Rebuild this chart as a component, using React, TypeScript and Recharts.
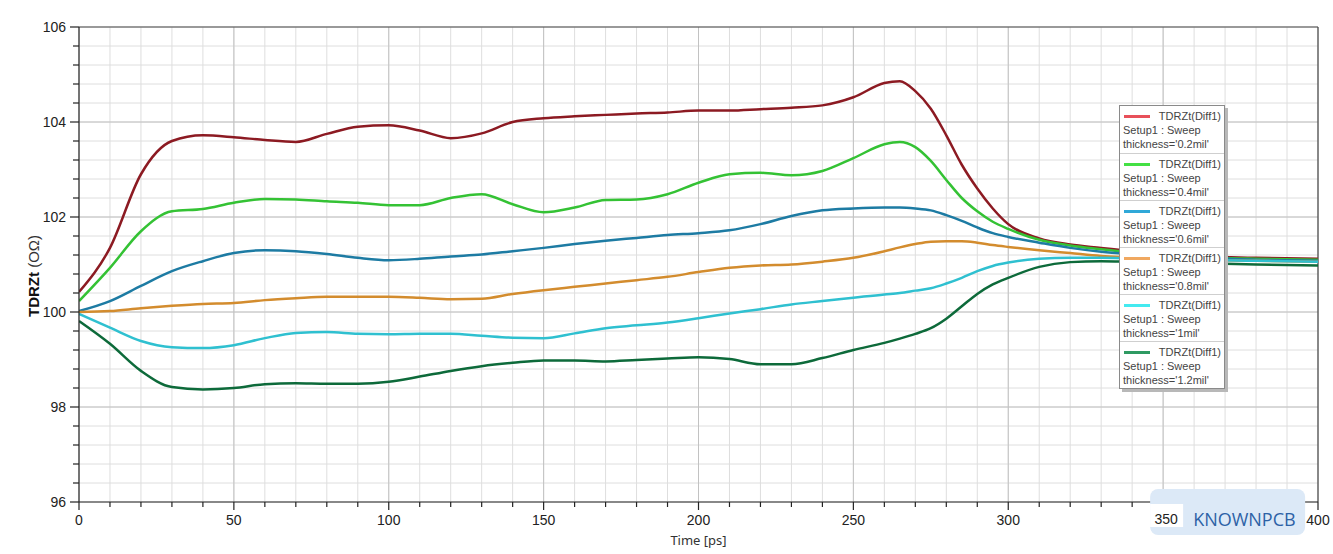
import React from 'react';
import { LineChart, Line, XAxis, YAxis, CartesianGrid, ReferenceLine, Legend } from 'recharts';

const times = [0, 10, 20, 30, 40, 50, 60, 70, 80, 90, 100, 110, 120, 130, 140, 150, 160, 170, 180, 190, 200, 210, 220, 230, 240, 250, 260, 265, 270, 275, 280, 285, 290, 295, 300, 310, 320, 330, 340, 350, 360, 380, 400];

const s02 = [100.42, 101.35, 102.9, 103.6, 103.72, 103.68, 103.62, 103.58, 103.75, 103.9, 103.93, 103.82, 103.66, 103.76, 104.0, 104.08, 104.12, 104.15, 104.18, 104.2, 104.24, 104.24, 104.27, 104.3, 104.35, 104.52, 104.82, 104.86, 104.65, 104.28, 103.72, 103.1, 102.6, 102.18, 101.85, 101.55, 101.42, 101.35, 101.28, 101.22, 101.18, 101.14, 101.12];
const s04 = [100.23, 100.93, 101.7, 102.12, 102.17, 102.3, 102.38, 102.37, 102.33, 102.3, 102.25, 102.25, 102.4, 102.48, 102.27, 102.1, 102.2, 102.36, 102.37, 102.48, 102.72, 102.9, 102.93, 102.88, 102.97, 103.24, 103.53, 103.58, 103.47, 103.18, 102.78, 102.4, 102.12, 101.9, 101.75, 101.52, 101.4, 101.32, 101.25, 101.2, 101.16, 101.12, 101.1];
const s06 = [100.02, 100.23, 100.55, 100.86, 101.07, 101.24, 101.3, 101.28, 101.22, 101.14, 101.09, 101.12, 101.17, 101.21, 101.28, 101.35, 101.43, 101.5, 101.56, 101.62, 101.66, 101.72, 101.85, 102.02, 102.14, 102.18, 102.2, 102.2, 102.18, 102.14, 102.04, 101.92, 101.78, 101.66, 101.58, 101.46, 101.35, 101.27, 101.22, 101.18, 101.15, 101.1, 101.08];
const s08 = [100.0, 100.02, 100.08, 100.13, 100.17, 100.19, 100.25, 100.29, 100.32, 100.32, 100.32, 100.3, 100.27, 100.28, 100.38, 100.46, 100.53, 100.6, 100.67, 100.74, 100.84, 100.93, 100.98, 101.0, 101.06, 101.14, 101.28, 101.36, 101.43, 101.48, 101.49, 101.49, 101.46, 101.41, 101.37, 101.3, 101.24, 101.18, 101.15, 101.12, 101.1, 101.08, 101.06];
const s10 = [99.96, 99.67, 99.39, 99.26, 99.24, 99.3, 99.45, 99.56, 99.58, 99.54, 99.53, 99.54, 99.54, 99.5, 99.46, 99.45, 99.55, 99.66, 99.72, 99.78, 99.87, 99.97, 100.06, 100.16, 100.23, 100.3, 100.37, 100.4, 100.45, 100.5, 100.6, 100.72, 100.86, 100.97, 101.04, 101.12, 101.14, 101.14, 101.13, 101.12, 101.1, 101.08, 101.06];
const s12 = [99.81, 99.33, 98.76, 98.42, 98.37, 98.4, 98.48, 98.5, 98.49, 98.49, 98.53, 98.64, 98.76, 98.86, 98.93, 98.98, 98.98, 98.96, 98.99, 99.02, 99.05, 99.01, 98.9, 98.9, 99.03, 99.2, 99.35, 99.44, 99.54, 99.66, 99.86, 100.12, 100.38, 100.58, 100.72, 100.95, 101.05, 101.07, 101.06, 101.05, 101.03, 101.0, 100.98];

const seriesKeys = ['s02', 's04', 's06', 's08', 's10', 's12'];
const seriesValues = [s02, s04, s06, s08, s10, s12];
const seriesNames = ["thickness='0.2mil'", "thickness='0.4mil'", "thickness='0.6mil'", "thickness='0.8mil'", "thickness='1mil'", "thickness='1.2mil'"];
const lineColors = ['#8c1a22', '#34c234', '#1d7ba3', '#d38c2e', '#2fc0d0', '#0d6a3a'];
const legendColors = ['#e8505a', '#44e044', '#30a8d8', '#f0a860', '#44eaf0', '#2f9a62'];

const xTicks = [0, 10, 20, 30, 40, 50, 60, 70, 80, 90, 100, 110, 120, 130, 140, 150, 160, 170, 180, 190, 200, 210, 220, 230, 240, 250, 260, 270, 280, 290, 300, 310, 320, 330, 340, 350, 360, 370, 380, 390, 400];
const xMajor = [50, 100, 150, 200, 250, 300, 350];
const yTicks = [96, 96.4, 96.8, 97.2, 97.6, 98, 98.4, 98.8, 99.2, 99.6, 100, 100.4, 100.8, 101.2, 101.6, 102, 102.4, 102.8, 103.2, 103.6, 104, 104.4, 104.8, 105.2, 105.6, 106];
const yMajor = [98, 100, 102, 104];

const data = times.map((t, i) => {
  const row: any = { t };
  seriesKeys.forEach((k, j) => { row[k] = seriesValues[j][i]; });
  return row;
});

const tickFont = "'Liberation Sans', Arial, sans-serif";

const XTick = (props: any) => {
  const { x, y, payload } = props;
  const v = payload.value;
  const major = v % 50 === 0;
  if (v > 350 && v < 400) return <g />;
  if (v === 350) {
    return (
      <g>
        <rect x={x - 13} y={y - 13} width={155} height={46} rx={8} ry={8} fill="#dce9f7" />
        <text x={x + 30} y={y + 24} fontFamily="'Open Sans', sans-serif" fontSize={18} fill="#2d62a6">KNOWNPCB</text>
        <rect x={x - 13} y={y + 2} width={33} height={23} fill="#ffffff" />
        <text x={x + 3} y={y + 22} textAnchor="middle" fontFamily={tickFont} fontSize={14} fill="#222">350</text>
      </g>
    );
  }
  return (
    <g>
      <line x1={x} x2={x} y1={y} y2={y + (major ? 8 : 5)} stroke="#222" strokeWidth={1.2} />
      {major && (
        <text x={x} y={y + 23} textAnchor="middle" fontFamily={tickFont} fontSize={14} fill="#222">{v}</text>
      )}
    </g>
  );
};

const YTick = (props: any) => {
  const { x, y, payload } = props;
  const v = payload.value;
  const r = Math.round(v);
  const major = Math.abs(v - r) < 1e-6 && r % 2 === 0;
  return (
    <g>
      <line x1={x - (major ? 9 : 6)} x2={x} y1={y} y2={y} stroke="#222" strokeWidth={1.2} />
      {major && (
        <text x={x - 13} y={y + 5} textAnchor="end" fontFamily={tickFont} fontSize={14} fill="#222">{r}</text>
      )}
    </g>
  );
};

const LegendBox = () => (
  <div style={{
    width: 106, border: '1px solid #8a8a8a', background: '#fff', boxShadow: '3px 3px 0 #b8b8b8',
    fontFamily: tickFont, fontSize: 11, color: '#444', lineHeight: '14px', boxSizing: 'border-box'
  }}>
    {seriesNames.map((n, i) => (
      <div key={n} style={{ height: 47, borderTop: i === 0 ? 'none' : '1px solid #cfcfcf', padding: '3px 3px 0 3px', boxSizing: 'border-box' }}>
        <div style={{ display: 'flex', alignItems: 'center', justifyContent: 'space-between', height: 14 }}>
          <span style={{ display: 'inline-block', width: 26, height: 3, background: legendColors[i], marginLeft: 1 }} />
          <span>TDRZt(Diff1)</span>
        </div>
        <div>Setup1 : Sweep</div>
        <div style={{ whiteSpace: 'nowrap' }}>{n}</div>
      </div>
    ))}
  </div>
);

const YLabel = (props: any) => {
  const vb = props.viewBox || { x: 0, y: 27 };
  const cx = vb.x + 33;
  const cy = vb.y + 249;
  return (
    <text x={cx} y={cy} transform={`rotate(-90 ${cx} ${cy})`} textAnchor="middle" dominantBaseline="central"
      fontFamily={tickFont} fontSize={15} fill="#111">
      <tspan fontWeight="bold">TDRZt</tspan>
      <tspan fill="#333"> (OΩ)</tspan>
    </text>
  );
};

const XLabel = (props: any) => {
  const vb = props.viewBox || { x: 79, y: 502, width: 1239 };
  return (
    <text x={vb.x + vb.width / 2} y={545} textAnchor="middle" fontFamily="'Noto Sans', sans-serif" fontSize={13} fill="#333">Time [ps]</text>
  );
};

export default function App() {
  return (
    <div style={{ position: 'absolute', left: 0, top: 0, width: 1333, height: 554, background: '#fff' }}>
      <LineChart width={1333} height={554} data={data} margin={{ top: 27, right: 15, bottom: 0, left: 0 }}>
        <CartesianGrid stroke="#dedede" strokeWidth={1} horizontalValues={yTicks} verticalValues={xTicks} />
        <CartesianGrid stroke="#c2c2c2" strokeWidth={1} horizontalValues={yMajor} verticalValues={xMajor} />
        <ReferenceLine y={106} stroke="#444" strokeWidth={1.2} />
        <ReferenceLine x={400} stroke="#444" strokeWidth={1.2} />
        <Legend layout="vertical" align="center" verticalAlign="middle" content={<LegendBox />}
          wrapperStyle={{ position: 'absolute', left: 1119, top: 105, width: 110 }} />
        {seriesKeys.map((k, i) => (
          <Line key={k} type="monotone" dataKey={k} name={seriesNames[i]} stroke={lineColors[i]} strokeWidth={2.5}
            dot={false} activeDot={false} isAnimationActive={false} />
        ))}
        <YAxis type="number" domain={[96, 106]} ticks={yTicks} interval={0} width={79} tickSize={0} tickMargin={0}
          tickLine={false} axisLine={{ stroke: '#222', strokeWidth: 1.2 }} tick={<YTick />} allowDataOverflow
          label={<YLabel />} />
        <XAxis dataKey="t" type="number" domain={[0, 400]} ticks={xTicks} interval={0} height={52} tickSize={0} tickMargin={0}
          tickLine={false} axisLine={{ stroke: '#222', strokeWidth: 1.2 }} tick={<XTick />} allowDataOverflow
          label={<XLabel />} />
      </LineChart>
    </div>
  );
}
